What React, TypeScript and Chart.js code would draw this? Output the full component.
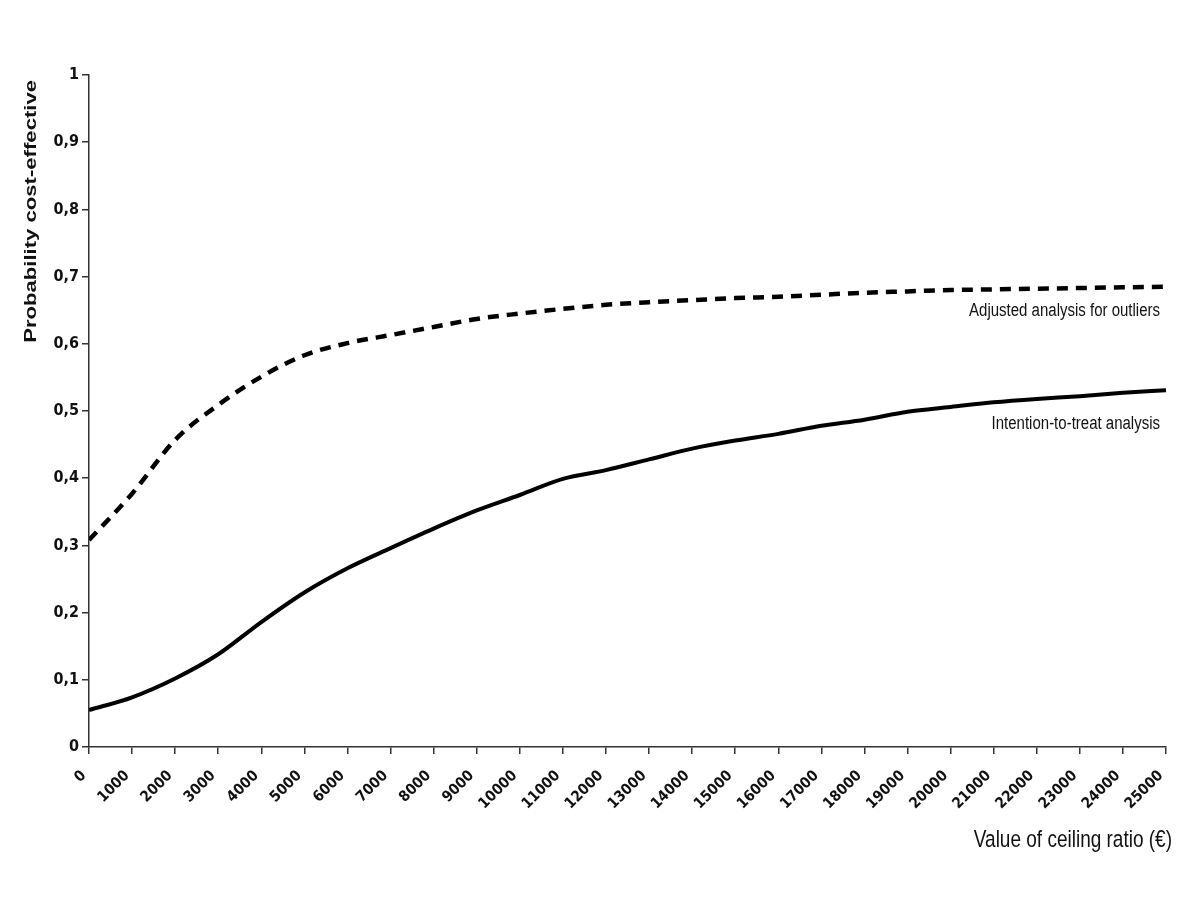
import React, { useEffect, useRef } from "react";
import { Chart, registerables } from "chart.js";

Chart.register(...registerables);

const ceilingRatios = [0, 1000, 2000, 3000, 4000, 5000, 6000, 7000, 8000, 9000, 10000, 11000, 12000, 13000, 14000, 15000, 16000, 17000, 18000, 19000, 20000, 21000, 22000, 23000, 24000, 25000];
const adjustedValues = [0.308, 0.377, 0.457, 0.509, 0.551, 0.583, 0.601, 0.613, 0.625, 0.637, 0.645, 0.652, 0.658, 0.662, 0.665, 0.668, 0.670, 0.673, 0.676, 0.678, 0.680, 0.681, 0.682, 0.683, 0.684, 0.685];
const ittValues = [0.055, 0.074, 0.102, 0.138, 0.186, 0.230, 0.266, 0.296, 0.325, 0.352, 0.375, 0.399, 0.412, 0.428, 0.444, 0.456, 0.466, 0.478, 0.487, 0.499, 0.506, 0.513, 0.518, 0.522, 0.527, 0.531];
const seriesNames = ["Adjusted analysis for outliers", "Intention-to-treat analysis"];
const yTitle = "Probability cost-effective";
const xTitle = "Value of ceiling ratio (€)";

const COND = "'DejaVu Sans Condensed', 'Liberation Sans Narrow', 'Liberation Sans', Arial, sans-serif";
const WIDE = "'Liberation Sans', Arial, sans-serif";

// draws text slightly stretched vertically, like the original (stretched) figure
function stretchedText(ctx: any, text: string, x: number, y: number, font: string, align: string, sy: number) {
  ctx.save();
  ctx.translate(x, y);
  ctx.scale(1, sy);
  ctx.font = font;
  ctx.textAlign = align;
  ctx.textBaseline = "middle";
  ctx.fillText(text, 0, 0);
  ctx.restore();
}

const textLayer = {
  id: "textLayer",
  afterDraw(chart: any) {
    const { ctx, scales, chartArea } = chart;
    const xs = scales.x;
    const ys = scales.y;
    ctx.save();
    ctx.fillStyle = "#111";
    const xr = xs.getPixelForValue(ceilingRatios[ceilingRatios.length - 1]) - 6;
    const aLast = adjustedValues[adjustedValues.length - 1];
    const iLast = ittValues[ittValues.length - 1];
    stretchedText(ctx, seriesNames[0], xr, ys.getPixelForValue(aLast) + 24, `15px ${WIDE}`, "right", 1.2);
    stretchedText(ctx, seriesNames[1], xr, ys.getPixelForValue(iLast) + 34, `15px ${WIDE}`, "right", 1.2);
    // x axis title, right aligned near the axis end
    stretchedText(ctx, xTitle, chartArea.right + 6, 840, `19px ${WIDE}`, "right", 1.25);
    // y axis title, rotated, aligned to the top of the axis
    ctx.save();
    ctx.translate(31, chartArea.top + 5);
    ctx.rotate(-Math.PI / 2);
    ctx.scale(1.3, 1);
    ctx.font = `bold 17px ${WIDE}`;
    ctx.textAlign = "right";
    ctx.textBaseline = "middle";
    ctx.fillText(yTitle, 0, 0);
    ctx.restore();
    ctx.restore();
  },
};

export default function App() {
  const ref = useRef<HTMLCanvasElement | null>(null);
  useEffect(() => {
    if (!ref.current) return;
    const chart = new Chart(ref.current, {
      type: "line",
      data: {
        datasets: [
          {
            label: seriesNames[0],
            data: ceilingRatios.map((x, i) => ({ x, y: adjustedValues[i] })),
            borderColor: "#000",
            borderWidth: 4.5,
            borderDash: [11, 8],
            pointRadius: 0,
            cubicInterpolationMode: "monotone",
            fill: false,
          },
          {
            label: seriesNames[1],
            data: ceilingRatios.map((x, i) => ({ x, y: ittValues[i] })),
            borderColor: "#000",
            borderWidth: 4,
            pointRadius: 0,
            cubicInterpolationMode: "monotone",
            fill: false,
          },
        ],
      },
      options: {
        animation: false,
        responsive: false,
        maintainAspectRatio: false,
        layout: { padding: { top: 75, right: 34, left: 0, bottom: 0 } },
        plugins: { legend: { display: false }, tooltip: { enabled: false } },
        scales: {
          x: {
            type: "linear",
            min: 0,
            max: 25000,
            afterFit: (s: any) => { s.height = 153; },
            border: { color: "#333", width: 1.5 },
            grid: { drawOnChartArea: false, tickLength: 7, color: "#333", lineWidth: 1.5 },
            ticks: {
              stepSize: 1000,
              autoSkip: false,
              maxRotation: 45,
              minRotation: 45,
              padding: 13,
              labelOffset: -5,
              color: "#111",
              font: { family: COND, size: 15, weight: "bold" },
              callback: (v: any) => String(v),
            },
            title: { display: false },
          },
          y: {
            min: 0,
            max: 1,
            afterFit: (s: any) => { s.width = 89; },
            border: { color: "#333", width: 1.5 },
            grid: { drawOnChartArea: false, tickLength: 7, color: "#333", lineWidth: 1.5 },
            ticks: {
              stepSize: 0.1,
              padding: 3,
              color: "#111",
              font: { family: COND, size: 16, weight: "bold" },
              callback: (v: any) => {
                const n = Math.round(Number(v) * 10) / 10;
                if (n === 0) return "0";
                if (n === 1) return "1";
                return n.toFixed(1).replace(".", ",");
              },
            },
            title: { display: false },
          },
        },
      },
      plugins: [textLayer],
    } as any);
    return () => chart.destroy();
  }, []);
  return (
    <div style={{ position: "fixed", left: 0, top: 0, width: 1200, height: 900, background: "#fff" }}>
      <canvas ref={ref} width={1200} height={900} style={{ width: 1200, height: 900, display: "block" }} />
    </div>
  );
}
